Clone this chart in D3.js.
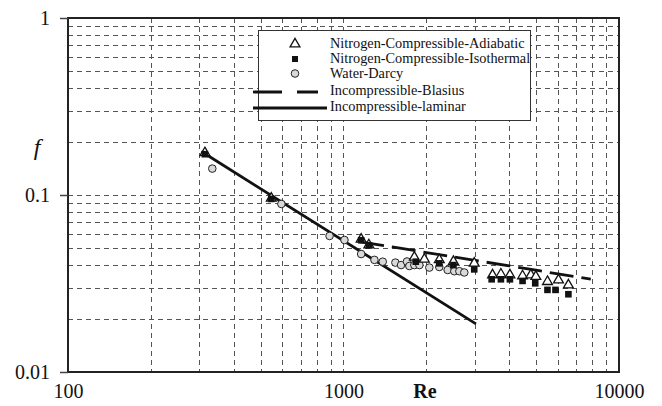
<!DOCTYPE html>
<html>
<head>
<meta charset="utf-8">
<script src="https://cdn.jsdelivr.net/npm/d3@7"></script>
<style>
  html, body { margin: 0; padding: 0; background: #fff; }
  svg { display: block; }
  svg text { font-family: "Liberation Serif", "Times New Roman", serif; }
</style>
</head>
<body>
<svg id="chart" width="662" height="406"></svg>
<script>
// Friction factor f versus Reynolds number Re (log-log)

const xTickValues = [100, 1000, 10000];
const xTickLabels = ["100", "1000", "10000"];
const yTickValues = [1, 0.1, 0.01];
const yTickLabels = ["1", "0.1", "0.01"];

// Nitrogen, compressible, adiabatic: [Re, f]
const adiabaticRe = [314, 547, 1159, 1236, 1808, 1966, 2227, 2506, 2982, 3475, 3727, 4018, 4466, 4786, 4990, 5500, 6030, 6551];
const adiabaticF  = [0.173, 0.0958, 0.0562, 0.0522, 0.0445, 0.0433, 0.0430, 0.0421, 0.0411, 0.0353, 0.0357, 0.0353, 0.0349, 0.0353, 0.0346, 0.0324, 0.0331, 0.0310];

// Nitrogen, compressible, isothermal: [Re, f]
const isothermalRe = [314, 547, 1159, 1236, 1830, 2227, 2506, 2982, 3450, 3727, 4018, 4466, 4965, 5500, 5880, 6551];
const isothermalF  = [0.170, 0.0950, 0.0555, 0.0520, 0.0420, 0.0411, 0.0402, 0.0380, 0.0334, 0.0334, 0.0334, 0.0327, 0.0317, 0.0291, 0.0291, 0.0275];

// Water, Darcy: [Re, f]
const waterRe = [334, 595, 890, 1008, 1159, 1295, 1388, 1543, 1618, 1700, 1734, 1808, 1886, 2049, 2227, 2388, 2525, 2634, 2744];
const waterF  = [0.141, 0.0890, 0.0587, 0.0557, 0.0464, 0.0430, 0.0420, 0.0415, 0.0402, 0.0421, 0.0397, 0.0402, 0.0402, 0.0389, 0.0392, 0.0377, 0.0371, 0.0371, 0.0365];

// Incompressible reference curves
const blasiusRe = [1150, 1500, 2000, 3000, 4000, 5000, 6000, 7900];
const blasiusF  = [0.0543, 0.0510, 0.0473, 0.0427, 0.0398, 0.0376, 0.0358, 0.0335];
const laminarRe = [305, 3025];
const laminarF  = [0.176, 0.0187];

const legendLabels = [
  "Nitrogen-Compressible-Adiabatic",
  "Nitrogen-Compressible-Isothermal",
  "Water-Darcy",
  "Incompressible-Blasius",
  "Incompressible-laminar"
];

const SERIF = "'Liberation Serif', 'Times New Roman', serif";
const svg = d3.select("#chart");
const plot = { left: 68, right: 619, top: 18, bottom: 372 };

const x = d3.scaleLog().domain([100, 10000]).range([plot.left, plot.right]);
const y = d3.scaleLog().domain([0.01, 1]).range([plot.bottom, plot.top]);

// gridlines at 2..10 within each decade
const xGrid = [];
const yGrid = [];
[100, 1000].forEach(d => { for (let k = 2; k <= 10; k++) xGrid.push(d * k); });
[0.01, 0.1].forEach(d => { for (let k = 2; k <= 10; k++) yGrid.push(+(d * k).toPrecision(3)); });

const grid = svg.append("g").attr("stroke", "#555").attr("stroke-width", 1)
  .attr("stroke-dasharray", "5,4").attr("fill", "none");
grid.selectAll("line.v").data(xGrid.filter(v => v < 10000)).join("line")
  .attr("class", "v")
  .attr("x1", d => Math.round(x(d)) + 0.5).attr("x2", d => Math.round(x(d)) + 0.5)
  .attr("y1", plot.top).attr("y2", plot.bottom);
grid.selectAll("line.h").data(yGrid.filter(v => v < 1)).join("line")
  .attr("class", "h")
  .attr("y1", d => Math.round(y(d)) + 0.5).attr("y2", d => Math.round(y(d)) + 0.5)
  .attr("x1", plot.left).attr("x2", plot.right);

// frame
svg.append("rect")
  .attr("x", plot.left).attr("y", plot.top)
  .attr("width", plot.right - plot.left).attr("height", plot.bottom - plot.top)
  .attr("fill", "none").attr("stroke", "#222").attr("stroke-width", 2);

// y axis ticks and labels
const yAxis = d3.axisLeft(y).tickValues(yTickValues)
  .tickFormat((d, i) => yTickLabels[i]).tickSize(8).tickPadding(10);
const gy = svg.append("g").attr("transform", `translate(${plot.left},0)`).call(yAxis)
  .attr("font-family", SERIF).attr("font-size", 20);
gy.select(".domain").remove();
gy.selectAll(".tick line").attr("stroke", "#444").attr("stroke-width", 1.5);
gy.selectAll(".tick text").attr("fill", "#111");

// x axis labels
const xAxis = d3.axisBottom(x).tickValues(xTickValues)
  .tickFormat((d, i) => xTickLabels[i]).tickSize(0).tickPadding(12);
const gx = svg.append("g").attr("transform", `translate(0,${plot.bottom})`).call(xAxis)
  .attr("font-family", SERIF).attr("font-size", 20);
gx.select(".domain").remove();
gx.selectAll(".tick text").attr("fill", "#111");

// axis titles
svg.append("text").attr("x", 425).attr("y", 398).attr("text-anchor", "middle")
  .attr("font-family", SERIF).attr("font-size", 20).attr("font-weight", "bold")
  .attr("fill", "#111").text("Re");
svg.append("text").attr("x", 37).attr("y", 155).attr("text-anchor", "middle")
  .attr("font-family", SERIF).attr("font-size", 24).attr("font-style", "italic")
  .attr("fill", "#111").text("f");

const line = d3.line().x(d => x(d[0])).y(d => y(d[1]));

// reference curves
svg.append("path").datum(d3.zip(laminarRe, laminarF))
  .attr("d", line).attr("fill", "none").attr("stroke", "#111").attr("stroke-width", 2.8);
svg.append("path").datum(d3.zip(blasiusRe, blasiusF))
  .attr("d", line).attr("fill", "none").attr("stroke", "#111").attr("stroke-width", 2.8)
  .attr("stroke-dasharray", "24,8");

// markers
const tri = d3.symbol().type(d3.symbolTriangle).size(42);
const symbols = svg.append("g");

symbols.selectAll("circle.water").data(d3.zip(waterRe, waterF)).join("circle")
  .attr("class", "water")
  .attr("cx", d => x(d[0])).attr("cy", d => y(d[1])).attr("r", 3.8)
  .attr("fill", "#d9d9d9").attr("stroke", "#222").attr("stroke-width", 1);

symbols.selectAll("path.adi").data(d3.zip(adiabaticRe, adiabaticF)).join("path")
  .attr("class", "adi")
  .attr("transform", d => `translate(${x(d[0])},${y(d[1])})`)
  .attr("d", tri).attr("fill", "#fff").attr("stroke", "#111").attr("stroke-width", 1.3);

symbols.selectAll("rect.iso").data(d3.zip(isothermalRe, isothermalF)).join("rect")
  .attr("class", "iso")
  .attr("x", d => x(d[0]) - 3.3).attr("y", d => y(d[1]) - 3.3)
  .attr("width", 6.6).attr("height", 6.6).attr("fill", "#111");

// legend
const lg = svg.append("g").attr("font-family", SERIF);
lg.append("rect").attr("x", 258.5).attr("y", 30.5).attr("width", 272).attr("height", 90)
  .attr("fill", "#fff").attr("stroke", "#333").attr("stroke-width", 1);
const baselines = [48, 63, 78, 95, 111];
lg.selectAll("text").data(legendLabels).join("text")
  .attr("x", 330).attr("y", (d, i) => baselines[i])
  .attr("font-size", 14.3).attr("fill", "#111").text(d => d);
lg.append("path").attr("transform", `translate(295,${baselines[0] - 4})`)
  .attr("d", tri).attr("fill", "#fff").attr("stroke", "#111").attr("stroke-width", 1.3);
lg.append("rect").attr("x", 295 - 3).attr("y", baselines[1] - 7).attr("width", 6).attr("height", 6)
  .attr("fill", "#111");
lg.append("circle").attr("cx", 295).attr("cy", baselines[2] - 4.5).attr("r", 3.8)
  .attr("fill", "#d9d9d9").attr("stroke", "#222");
lg.append("line").attr("x1", 253).attr("x2", 318).attr("y1", baselines[3] - 3).attr("y2", baselines[3] - 3)
  .attr("stroke", "#111").attr("stroke-width", 2.8).attr("stroke-dasharray", "29,15");
lg.append("line").attr("x1", 253).attr("x2", 327).attr("y1", baselines[4] - 3).attr("y2", baselines[4] - 3)
  .attr("stroke", "#111").attr("stroke-width", 2.8);
</script>
</body>
</html>
